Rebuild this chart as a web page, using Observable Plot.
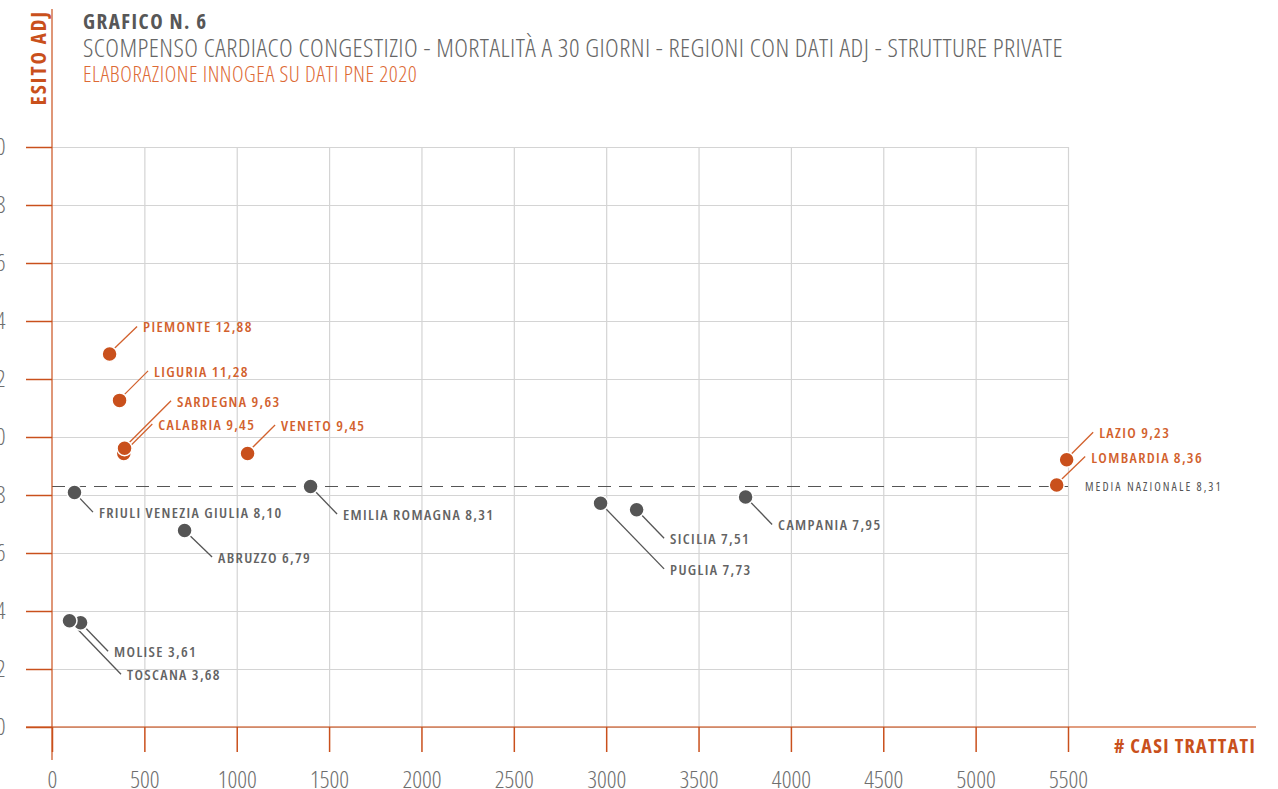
<!DOCTYPE html>
<html><head><meta charset="utf-8">
<script src="https://cdn.jsdelivr.net/npm/d3@7"></script>
<script src="https://cdn.jsdelivr.net/npm/@observablehq/plot@0.6"></script>
<style>
body{margin:0;background:#fff;overflow:hidden;}
svg{display:block;}
</style></head><body><div id="chart"></div>
<script>
const regioni = ["PIEMONTE","LIGURIA","CALABRIA","SARDEGNA","VENETO","LAZIO","LOMBARDIA","FRIULI VENEZIA GIULIA","EMILIA ROMAGNA","ABRUZZO","MOLISE","TOSCANA","PUGLIA","SICILIA","CAMPANIA"];
const casiTrattati = [309, 363, 386, 390, 1056, 5490, 5436, 119, 1397, 715, 152, 92, 2967, 3162, 3752];
const esitoAdj = [12.88, 11.28, 9.45, 9.63, 9.45, 9.23, 8.36, 8.10, 8.31, 6.79, 3.61, 3.68, 7.73, 7.51, 7.95];
const mediaNazionale = 8.31;
const xTicks = [0, 500, 1000, 1500, 2000, 2500, 3000, 3500, 4000, 4500, 5000, 5500];
const yTicks = [0, 2, 4, 6, 8, 10, 12, 14, 16, 18, 20];
const titolo = "GRAFICO N. 6";
const sottotitolo = "SCOMPENSO CARDIACO CONGESTIZIO - MORTALITÀ A 30 GIORNI - REGIONI CON DATI ADJ - STRUTTURE PRIVATE";
const fonte = "ELABORAZIONE INNOGEA SU DATI PNE 2020";
const etichettaY = "ESITO ADJ";
const etichettaX = "# CASI TRATTATI";
const etichettaMedia = "MEDIA NAZIONALE 8,31";

// layout only: leader-line offsets (px) for each label
const leaderOffsets = [[28,-27],[29,-29],[29,-29],[47,-47],[28,-28],[27,-27],[29,-28],[19,20],[27,28],[28,27],[28,29],[52,54],[64,66],[28,29],[27,28]];

const ORANGE = "#c9501c", ORANGE_TXT = "#d2612d", GREY = "#555555", GREY_TXT = "#636363";
const FONT = "'Open Sans', sans-serif";
const COND = "75%";

const fmt = v => d3.format(".2f")(v).replace(".", ",");
const rows = regioni.map((r, i) => ({
  regione: r, casi: casiTrattati[i], esito: esitoAdj[i],
  gruppo: esitoAdj[i] > mediaNazionale ? "sopra" : "sotto",
  off: leaderOffsets[i]
}));

const W = 1278, H = 789;

const decor = (index, scales, values, dims) => {
  const {x, y} = scales;
  const g = d3.create("svg:g").attr("font-family", FONT).attr("text-anchor", "start").style("font-stretch", COND);
  // axis lines
  g.append("line").attr("x1", x(0)).attr("x2", x(0)).attr("y1", 9).attr("y2", dims.height - 29)
    .attr("stroke", ORANGE).attr("stroke-opacity", 0.75).attr("stroke-width", 1.6);
  g.append("line").attr("x1", 26).attr("x2", dims.width - 22).attr("y1", y(0)).attr("y2", y(0))
    .attr("stroke", ORANGE).attr("stroke-opacity", 0.75).attr("stroke-width", 1.6);
  // titles
  g.append("text").attr("x", 83).attr("y", 29).attr("font-size", 21).attr("font-weight", 700)
    .attr("letter-spacing", 1.5).attr("fill", "#575757").text(titolo);
  g.append("text").attr("x", 83).attr("y", 57).attr("font-size", 26).attr("font-weight", 300)
    .attr("letter-spacing", 0.45).attr("fill", "#666").text(sottotitolo);
  g.append("text").attr("x", 83).attr("y", 82).attr("font-size", 22).attr("font-weight", 300)
    .attr("letter-spacing", 0.55).attr("fill", "#dd6a35").text(fonte);
  g.append("text").attr("transform", `translate(46,10) rotate(-90)`).attr("text-anchor", "end")
    .attr("font-size", 21).attr("font-weight", 700)
    .attr("fill", ORANGE).attr("letter-spacing", 2).text(etichettaY);
  g.append("text").attr("x", dims.width - 22).attr("y", y(0) + 26).attr("text-anchor", "end")
    .attr("font-size", 20).attr("font-weight", 700).attr("letter-spacing", 1.3).attr("fill", ORANGE).text(etichettaX);
  g.append("text").attr("x", x(5500) + 17).attr("y", y(mediaNazionale) + 5).attr("font-size", 12)
    .attr("font-weight", 400).attr("letter-spacing", 2.05).attr("fill", GREY).text(etichettaMedia);
  // leader lines and labels
  for (const d of rows) {
    const x1 = x(d.casi), y1 = y(d.esito);
    const [dx, dy] = d.off;
    const col = d.gruppo === "sopra" ? ORANGE_TXT : GREY;
    g.append("line").attr("x1", x1).attr("y1", y1).attr("x2", x1 + dx).attr("y2", y1 + dy)
      .attr("stroke", col).attr("stroke-width", 1.3);
    g.append("text").attr("x", x1 + dx + 6).attr("y", y1 + dy + 6)
      .attr("font-size", 15).attr("font-weight", 600).attr("letter-spacing", 1.35)
      .attr("fill", d.gruppo === "sopra" ? ORANGE_TXT : GREY_TXT)
      .text(`${d.regione} ${fmt(d.esito)}`);
  }
  return g.node();
};

const chart = Plot.plot({
  width: W, height: H,
  marginLeft: 52, marginRight: 210, marginTop: 147, marginBottom: 62,
  style: {fontFamily: FONT, background: "white", fontStretch: COND, fontWeight: 300},
  x: {domain: [0, 5500]},
  y: {domain: [0, 20]},
  color: {domain: ["sotto", "sopra"], range: [GREY, ORANGE]},
  marks: [
    Plot.gridY(yTicks, {stroke: "#d4d4d4", strokeOpacity: 1, strokeWidth: 1.2}),
    Plot.gridX(xTicks.filter(d => d > 0), {stroke: "#d4d4d4", strokeOpacity: 1, strokeWidth: 1.2}),
    Plot.ruleY([mediaNazionale], {stroke: GREY, strokeWidth: 1.2, strokeDasharray: "13,8"}),
    Plot.axisX(xTicks, {tickSize: 25, tickPadding: 18, stroke: ORANGE, strokeWidth: 1.5, fill: "#6e6e6e", fontSize: 24, tickFormat: d3.format("d"), label: null}),
    Plot.axisY(yTicks, {tickSize: 26, tickPadding: 21, stroke: ORANGE, strokeWidth: 1.5, fill: "#6e6e6e", fontSize: 24, tickFormat: d3.format("d"), label: null}),
    decor,
    Plot.dot(rows, {x: "casi", y: "esito", r: 7.5, fill: "gruppo", stroke: "white", strokeWidth: 1.5})
  ]
});
document.getElementById("chart").append(chart);
</script>
</body></html>
